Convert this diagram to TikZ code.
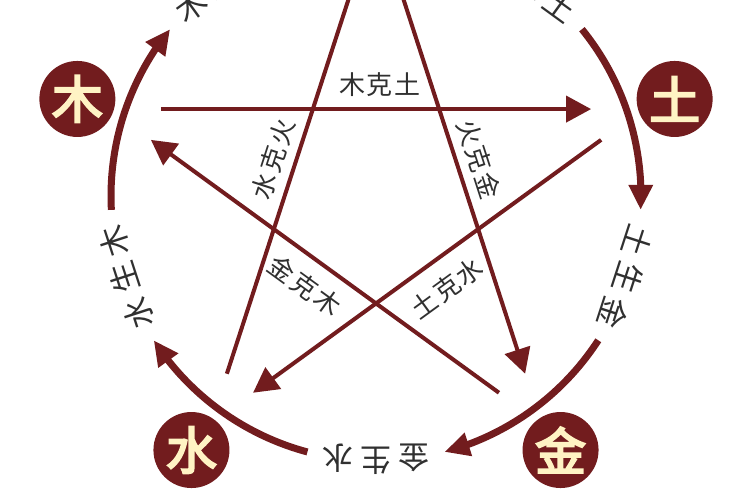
\documentclass[tikz,border=0pt]{standalone}
\usepackage{fontspec}
\newfontfamily\cjk{Noto Sans CJK SC}
\newfontfamily\cjkb{Noto Sans CJK SC}[FakeBold=4]
\usetikzlibrary{arrows.meta,bending}
\definecolor{wred}{HTML}{721C1E}
\definecolor{cream}{HTML}{FFF3C4}
\definecolor{ink}{HTML}{303030}
\tikzset{
  elem/.style={circle,fill=wred,minimum size=76pt,inner sep=0pt,text=cream,
    font=\cjkb\fontsize{51}{51}\selectfont},
  keline/.style={draw=wred,line width=4pt,-{Triangle[length=25pt,width=26pt]}},
  shengarc/.style={draw=wred,line width=7pt,-{Triangle[length=25pt,width=23pt]}},
  kelabel/.style={text=ink,inner sep=0pt,font=\cjk\fontsize{26}{26}\selectfont},
  shenglabel/.style={text=ink,inner sep=0pt,font=\cjk\fontsize{31}{31}\selectfont}
}
\begin{document}
\begin{tikzpicture}[x=1pt,y=1pt]
\useasboundingbox (0,0) rectangle (750,500);
\clip (0,0) rectangle (750,500);
\fill[white] (0,0) rectangle (750,500);
\begin{scope}[shift={(376,304)}]
  % element nodes
  \node[elem] (mu)   at (162:314) {木};
  \node[elem] (tu)   at (18:314)  {土};
  \node[elem] (shui) at (234:314) {水};
  \node[elem] (jin)  at (306:314) {金};
  % star end points
  \coordinate (muO)   at (158:232);
  \coordinate (muI)   at (166:232);
  \coordinate (tuO)   at (14:232);
  \coordinate (tuI)   at (22:232);
  \coordinate (shuiO) at (230:232);
  \coordinate (shuiI) at (238:232);
  \coordinate (jinO)  at (302:232);
  \coordinate (jinI)  at (310:232);
  \coordinate (huoO)  at (86:232);
  \coordinate (huoI)  at (94:232);
  % ke lines
  \draw[keline] (muO) -- (tuI);
  \draw[keline] (tuO) -- (shuiI);
  \draw[keline] (shuiO) -- (huoI);
  \draw[keline] (huoO) -- (jinI);
  \draw[keline] (jinO) -- (muI);
  % ke labels
  \node[kelabel] (k1) at (4,111) {木\hspace{2pt}克\hspace{2pt}土};
  \node[kelabel,rotate=72] (k2) at (-103,37) {水\hspace{2pt}克\hspace{2pt}火};
  \node[kelabel,rotate=-72] (k3) at (103,37) {火\hspace{2pt}克\hspace{2pt}金};
  \node[kelabel,rotate=-36] (k4) at (-71,-90) {金\hspace{2pt}克\hspace{2pt}木};
  \node[kelabel,rotate=36] (k5) at (71,-92) {土\hspace{2pt}克\hspace{2pt}水};
  % sheng arcs
  \foreach \v in {162,18,234,306}{
    \draw[shengarc] (\v+21:265) arc[start angle=\v+21,end angle=\v-21,radius=265];
  }
  % sheng labels
  \foreach \a/\x/\y/\z in {126/木/生/火,54/火/生/土,342/土/生/金,270/金/生/水,198/水/生/木}{
    \node[shenglabel,rotate=\a-90] (s\a a) at (\a+8.2:265) {\x};
    \node[shenglabel,rotate=\a-90] (s\a b) at (\a:265) {\y};
    \node[shenglabel,rotate=\a-90] (s\a c) at (\a-8.2:265) {\z};
  }
\end{scope}
\end{tikzpicture}
\end{document}
